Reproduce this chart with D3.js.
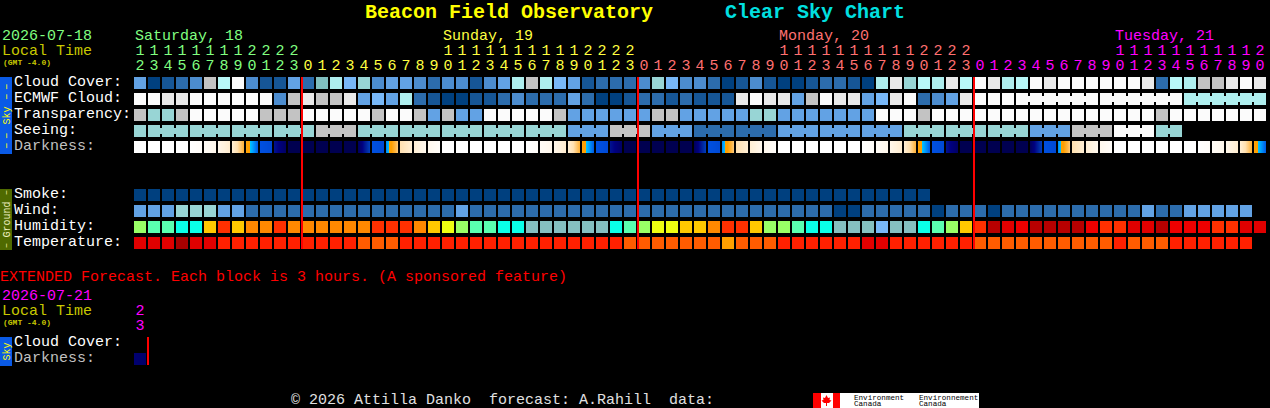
<!DOCTYPE html>
<html>
<head>
<meta charset="utf-8">
<style>
html, body { margin: 0; background: #000; overflow: hidden; }
svg { display: block; }
text { font-family: "Liberation Mono", monospace; font-size: 15px; }
.cells rect { shape-rendering: crispEdges; }
.domain { display: none; }
</style>
</head>
<body>
<svg width="1270" height="408"></svg>
<script src="https://d3js.org/d3.v7.min.js"></script>
<script>
'use strict';

var hours = [12,13,14,15,16,17,18,19,20,21,22,23,
  0,1,2,3,4,5,6,7,8,9,10,11,12,13,14,15,16,17,18,19,20,21,22,23,
  0,1,2,3,4,5,6,7,8,9,10,11,12,13,14,15,16,17,18,19,20,21,22,23,
  0,1,2,3,4,5,6,7,8,9,10,11,12,13,14,15,16,17,18,19,20];
var days = ["Saturday, 18", "Sunday, 19", "Monday, 20", "Tuesday, 21"];
var dayColors = ["#80ff80", "#ffff40", "#ff7070", "#ff00ff"];

// sky rows are levels of the cloud palette, 0 = clear, 12 = overcast
var cloud = [4,0,1,2,3,10,9,12,3,1,1,4,
  2,6,8,5,7,3,4,4,3,2,3,3,
  1,3,4,8,10,8,5,4,1,2,2,2,
  3,7,5,3,3,2,0,1,3,1,0,0,
  1,2,2,1,0,8,11,7,9,8,11,9,
  12,11,8,9,12,11,12,12,12,12,12,12,
  11,2,9,8,10,10,11,12,11];
var ecmwf = [12,12,11,11,12,12,12,12,12,12,3,10,
  11,10,10,11,4,5,4,8,2,1,0,0,
  1,1,2,3,2,2,2,4,2,0,0,1,
  2,2,1,2,1,1,1,11,12,11,11,4,
  10,12,11,11,4,5,11,12,2,3,4,11,
  12,12,12,12,12,12,12,12,12,12,12,12,
  12,12,12,8,8,8,8,8,8];
var transparency = [10,7,7,10,12,12,12,12,12,10,10,10,
  12,12,12,12,12,10,12,12,10,4,10,4,
  4,12,12,12,12,12,10,4,4,4,4,4,
  4,10,10,4,4,4,4,4,7,7,4,4,
  4,4,4,4,4,12,12,12,10,12,12,12,
  12,12,12,12,12,12,12,12,12,12,12,12,
  12,10,12,12,12,12,12,12,12];
var seeing = [7,7,7,7,7,7,7,7,7,7,7,7,
  7,10,10,10,7,7,7,7,7,7,7,7,
  7,7,7,7,7,7,7,4,4,4,10,10,
  10,4,4,4,2,2,2,2,2,2,4,4,
  4,4,4,4,4,4,4,7,7,7,7,7,
  7,7,7,7,4,4,4,10,10,10,12,12,
  12,7,7];
var darkStart = [0,0,0,0,0,.5,1.1,2,4.8,7,8.6,10,
  10,10,10,10,9.8,7,6.3,3,2,1,0,0,
  0,0,0,0,0,.5,1.1,2,4.8,7,8.6,10,
  10,10,10,10,9.8,7,6.3,3,2,1,0,0,
  0,0,0,0,0,.5,1.1,2,4.8,7,8.6,10,
  10,10,10,10,9.8,7,6.3,3,2,1,0,0,
  0,0,0,0,0,.5,1.1,2,4.8];
var darkEnd = [0,0,0,0,.4,1.1,2.2,4.2,6.9,7.2,9.6,10,
  10,10,10,10,7.6,7.2,3.5,2,1,.3,0,0,
  0,0,0,0,.4,1.1,2.2,4.2,6.9,7.2,9.6,10,
  10,10,10,10,7.6,7.2,3.5,2,1,.3,0,0,
  0,0,0,0,.4,1.1,2.2,4.2,6.9,7.2,9.6,10,
  10,10,10,10,7.6,7.2,3.5,2,1,.3,0,0,
  0,0,0,0,.4,1.1,2.2,4.2,6.9];

var smoke = [0,0,0,0,0,0,0,0,0,0,0,0,0,0,0,0,0,0,0,
  0,0,0,0,0,0,0,0,0,0,0,0,0,0,0,0,0,0,0,0,
  0,0,0,0,0,0,0,0,0,0,0,0,0,0,0,0,0,0];
var wind = [14,14,14,22,22,22,14,14,9,9,9,9,
  9,9,9,9,9,9,9,9,9,9,9,14,
  9,9,9,9,9,9,9,9,9,9,9,9,
  9,9,9,9,9,9,9,9,9,9,9,9,
  9,9,3,3,9,9,9,9,9,3,9,9,
  9,3,9,9,9,9,9,9,9,9,9,9,
  14,9,9,14,14,14,14,14];
var humidity = [67,72,72,77,77,57,47,57,52,52,47,52,
  52,52,52,52,52,47,47,47,52,57,62,67,
  72,72,77,77,82,82,82,82,82,82,77,72,
  67,62,62,57,57,52,47,47,57,67,67,72,
  77,77,82,82,82,87,82,82,77,72,67,57,
  47,32,37,42,32,32,32,32,42,47,47,37,
  37,32,42,42,42,47,47,37,37];
var temperature = [30,30,30,33,30,30,26,26,26,26,26,26,
  26,26,26,26,22,22,22,26,26,26,26,26,
  26,26,26,26,26,26,26,26,26,26,26,22,
  22,22,22,22,22,22,18,22,22,22,26,26,
  26,26,26,26,30,30,26,26,26,26,26,26,
  22,22,22,22,22,22,22,22,22,22,26,22,
  22,22,26,26,26,26,26,26];

var midnights = [12, 36, 60];

var rowNames = ["Cloud Cover:", "ECMWF Cloud:", "Transparency:", "Seeing:", "Darkness:",
  "gap1", "gap2", "Smoke:", "Wind:", "Humidity:", "Temperature:"];

var cloudColors = ["#00407f","#165696","#2c6cac","#4c8cce","#62a2e4","#78b8f8","#80bfbf",
  "#98d5d5","#aeeeee","#b8f8f8","#c3c3c3","#e9e9e9","#fbfbfb"];

var svg = d3.select("svg");

var x = d3.scaleBand().domain(d3.range(hours.length)).range([134, 1266]).paddingInner(1 / 7).paddingOuter(0);
var y = d3.scaleBand().domain(rowNames).range([77, 249]).paddingInner(0.25).paddingOuter(0);
var yExt = d3.scaleBand().domain(["Cloud Cover:", "Darkness:"]).range([337, 365]).paddingInner(0.25).paddingOuter(0);

var cloudColor = d3.scaleOrdinal(d3.range(13), cloudColors);
var windColor = d3.scaleThreshold([6, 12, 17], ["#00407f", "#2c6cac", "#62a2e4", "#98d5d5"]);
var humColor = d3.scaleThreshold([35,40,45,50,55,60,65,70,75,80,85],
  ["#b80000","#e00000","#ee0000","#ff3000","#ff8800","#ffc800","#eeff11","#99ff66","#5affb0","#0affe8","#85c0c0","#78b8f8"]);
var tempColor = d3.scaleThreshold([20, 24, 28, 32], ["#ffa000","#ff5c00","#ff2000","#e00000","#a80000"]);
var darkColor = d3.scaleLinear()
  .domain([0,1,2,3,4,5,5.49,5.5,6,7,8,9,10])
  .range(["#ffffff","#fff8ee","#ffefd5","#ffe0b0","#ffb848","#ffa000","#ffa000","#00c8ff","#00a0ff","#0050e0","#0030a8","#000080","#000050"]);

function drawRow(name, values, color) {
  svg.append("g").attr("class", "cells").selectAll("rect")
    .data(values)
    .enter().append("rect")
    .attr("x", function(d, i) { return x(i); })
    .attr("y", y(name))
    .attr("width", x.bandwidth())
    .attr("height", y.bandwidth())
    .attr("fill", function(d) { return color(d); });
}

// little bridges between cells of one forecast block
function drawBridges(name, values, color, blockOf) {
  var pairs = d3.range(values.length - 1).filter(function(i) {
    return blockOf(i) !== null && blockOf(i) === blockOf(i + 1);
  });
  svg.append("g").attr("class", "cells").selectAll("rect")
    .data(pairs)
    .enter().append("rect")
    .attr("x", function(i) { return x(i) + x.bandwidth(); })
    .attr("y", y(name) + 3)
    .attr("width", x.step() - x.bandwidth())
    .attr("height", y.bandwidth() - 6)
    .attr("fill", function(i) { return color(values[i]); });
}

function drawDarkness(g, starts, ends, yTop, h) {
  var stripes = [];
  starts.forEach(function(s, i) {
    d3.range(12).forEach(function(k) {
      stripes.push({ col: i, k: k, v: s + (ends[i] - s) * (k + 0.5) / 12 });
    });
  });
  g.selectAll("rect")
    .data(stripes)
    .enter().append("rect")
    .attr("x", function(d) { return x(d.col) + d.k; })
    .attr("y", yTop)
    .attr("width", 1)
    .attr("height", h)
    .attr("fill", function(d) { return darkColor(d.v); });
}

drawRow("Cloud Cover:", cloud, cloudColor);
drawRow("ECMWF Cloud:", ecmwf, cloudColor);
drawRow("Transparency:", transparency, cloudColor);
drawRow("Seeing:", seeing, cloudColor);
drawBridges("Seeing:", seeing, cloudColor, function(i) { return Math.floor((i + 2) / 3); });
drawBridges("ECMWF Cloud:", ecmwf, cloudColor, function(i) { return i < 63 ? null : Math.floor((i - 63) / 6); });
drawDarkness(svg.append("g").attr("class", "cells"), darkStart, darkEnd, y("Darkness:"), y.bandwidth());
drawRow("Smoke:", smoke, cloudColor);
drawRow("Wind:", wind, windColor);
drawRow("Humidity:", humidity, humColor);
drawRow("Temperature:", temperature, tempColor);

// red midnight lines
svg.append("g").attr("class", "cells").selectAll("rect")
  .data(midnights)
  .enter().append("rect")
  .attr("x", function(d) { return Math.round(x(d)) - 1; })
  .attr("y", 77)
  .attr("width", 2)
  .attr("height", 172)
  .attr("fill", "#ff0000");

// row labels
svg.append("g").selectAll("text")
  .data(rowNames.filter(function(d) { return d.indexOf("gap") !== 0; }))
  .enter().append("text")
  .attr("x", 14)
  .attr("y", function(d) { return y(d) + 9; })
  .attr("fill", function(d) { return d === "Darkness:" ? "#c0c0c0" : "#ffffff"; })
  .text(function(d) { return d; });

// hour digits
var dayOf = [];
hours.forEach(function(h, i) { dayOf.push(i === 0 ? 0 : dayOf[i - 1] + (h === 0 ? 1 : 0)); });

function hourAxis(yPos, format) {
  var g = svg.append("g")
    .attr("transform", "translate(0," + yPos + ")")
    .call(d3.axisTop(x).tickSize(0).tickPadding(0).tickFormat(format));
  g.selectAll("text")
    .attr("dy", 0)
    .attr("fill", function(i) { return dayColors[dayOf[i]]; })
    .style("font-size", "15px")
    .style("font-family", '"Liberation Mono", monospace');
}
hourAxis(55, function(i) { return hours[i] >= 10 ? Math.floor(hours[i] / 10) : ""; });
hourAxis(70, function(i) { return hours[i] % 10; });

// day names sit over the first two-digit hour of the day
svg.append("g").selectAll("text")
  .data(days)
  .enter().append("text")
  .attr("x", function(d, i) {
    var first = hours.findIndex(function(h, c) { return dayOf[c] === i && h >= 10; });
    return x(first) + 1;
  })
  .attr("y", 40)
  .attr("fill", function(d, i) { return dayColors[i]; })
  .text(function(d) { return d; });

function label(txt, px, py, color, size, weight) {
  return svg.append("text")
    .attr("x", px).attr("y", py)
    .attr("fill", color)
    .style("font-size", (size || 15) + "px")
    .style("font-weight", weight || "normal")
    .style("white-space", "pre")
    .text(txt);
}

label("Beacon Field Observatory", 365, 18, "#ffff00", 20, "bold");
label("Clear Sky Chart", 725, 18, "#00e0e0", 20, "bold");
label("2026-07-18", 2, 40, "#80ff80");
label("Local Time", 2, 55, "#c8c800");
label("(GMT -4.0)", 3, 65, "#c8c800", 8, "bold");

// side bars
function sideBar(y0, y1, color) {
  svg.append("rect").attr("class", "bar").attr("x", 0).attr("y", y0).attr("width", 12).attr("height", y1 - y0).attr("fill", color);
}
function sideText(txt, cy, color, size, spacing, base) {
  svg.append("text")
    .attr("transform", "translate(" + (base || 9.5) + "," + cy + ") rotate(-90)")
    .attr("text-anchor", "middle")
    .attr("fill", color)
    .style("font-size", size + "px")
    .style("letter-spacing", (spacing || 0) + "px")
    .text(txt);
}
sideBar(77, 154, "#0a5ae6");
sideText("\u2013\u2013", 90, "#ffff00", 11, 3.4, 9.3);
sideText("Sky", 115.5, "#ffff00", 10);
sideText("\u2013\u2013", 139, "#ffff00", 11, 3.4, 9.3);
sideBar(189, 250, "#4f6a00");
sideText("\u2013", 192.5, "#f0f0a0", 9, 0, 8.5);
sideText("Ground", 219.5, "#f0f0c0", 10);
sideText("\u2013", 245.5, "#f0f0a0", 9, 0, 8.5);

// extended forecast
label("EXTENDED Forecast. Each block is 3 hours. (A sponsored feature)", 0, 281, "#ff0000");
label("2026-07-21", 2, 300, "#ff00ff");
label("Local Time", 2, 315, "#c8c800");
label("(GMT -4.0)", 3, 325, "#c8c800", 8, "bold");
label("2", x(0) + 1.5, 315, "#ff00ff");
label("3", x(0) + 1.5, 330, "#ff00ff");
label("Cloud Cover:", 14, 346, "#ffffff");
label("Darkness:", 14, 362, "#c0c0c0");
sideBar(337, 366, "#0a5ae6");
sideText("Sky", 351.5, "#ffff00", 10);

var extDarkStart = [9.3];
var extDarkEnd = [9.5];
drawDarkness(svg.append("g").attr("class", "cells"), extDarkStart, extDarkEnd, yExt("Darkness:"), yExt.bandwidth());
svg.append("rect").attr("class", "line").attr("x", Math.round(x(1)) - 1).attr("y", 337).attr("width", 2).attr("height", 28).attr("fill", "#ff0000");

// footer
label("\u00a9 2026 Attilla Danko  forecast: A.Rahill  data:", 291, 404, "#e0e0e0");

var flag = svg.append("g").attr("transform", "translate(813,393)");
flag.append("rect").attr("width", 166).attr("height", 15).attr("fill", "#ffffff");
flag.append("rect").attr("width", 8).attr("height", 15).attr("fill", "#ff0000");
flag.append("rect").attr("x", 20).attr("width", 7).attr("height", 15).attr("fill", "#ff0000");
flag.append("path").attr("fill", "#ff0000")
  .attr("d", "M13.5 2 L15 5 L17 4.5 L16.5 7 L18.5 7.5 L16 10 L14 10 L14 13 L13 13 L13 10 L11 10 L8.5 7.5 L10.5 7 L10 4.5 L12 5 Z");
label("Environment", 854, 399.5, "#000000", 7.6);
label("Canada", 854, 406, "#000000", 7.6);
label("Environnement", 919, 399.5, "#000000", 7.6);
label("Canada", 919, 406, "#000000", 7.6);
</script>
</body>
</html>
